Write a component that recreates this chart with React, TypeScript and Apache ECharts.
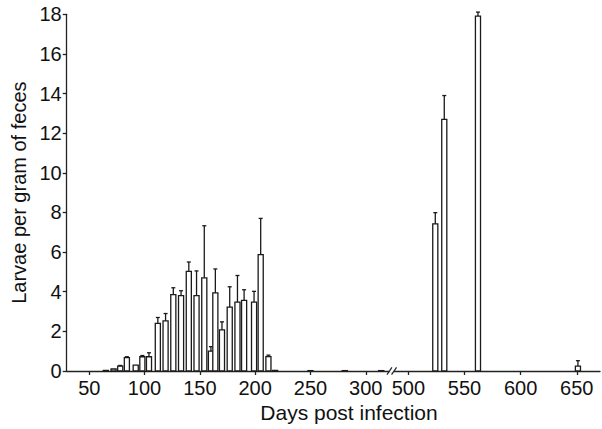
import React, { useEffect, useRef } from "react";
import * as echarts from "echarts";

// Sampling days (days post infection)
const days = [65, 72, 78, 84, 92, 98, 104, 112, 119, 126, 133, 140, 147, 154, 160, 164, 170, 177, 184, 190, 199, 205, 212, 218, 250, 281, 314, 524, 532, 562, 651];
// Mean larvae per gram of feces
const means = [0.03, 0.1, 0.25, 0.67, 0.3, 0.72, 0.72, 2.4, 2.53, 3.85, 3.8, 5.03, 3.8, 4.7, 1.0, 3.94, 2.08, 3.22, 3.48, 3.56, 3.48, 5.87, 0.73, 0.03, 0.02, 0.02, 0.02, 7.42, 12.7, 17.91, 0.25];
// Upper error (SEM)
const errors = [0, 0, 0.03, 0.05, 0, 0.06, 0.2, 0.3, 0.37, 0.35, 0.25, 0.47, 1.25, 2.63, 0.23, 1.21, 0.4, 1.03, 1.34, 0.54, 0.54, 1.83, 0.07, 0, 0, 0, 0, 0.57, 1.2, 0.2, 0.27];

const xTickDays = [50, 100, 150, 200, 250, 300, 500, 550, 600, 650];
const yTicks = [0, 2, 4, 6, 8, 10, 12, 14, 16, 18];

// broken-axis scale: left segment as is, right segment (>=500) shifted
const RIGHT_START = 338.5;
const RIGHT_SCALE = 1.0155;
const toAxis = (d: number) => (d < 400 ? d : RIGHT_START + (d - 500) * RIGHT_SCALE);
const X_MIN = 29.6;
const X_MAX = 511.8;
const BREAK_T = 323.5;

const FONT = "'Liberation Sans', Arial, Helvetica, sans-serif";

export default function App() {
  const ref = useRef<HTMLDivElement>(null);
  useEffect(() => {
    if (!ref.current) return;
    const chart = echarts.init(ref.current, null, { renderer: "svg" });
    const data = days.map((d, i) => [toAxis(d), means[i], errors[i]]);
    const tickVals = xTickDays.map(toAxis);
    const labelFor = (v: number) => {
      const i = tickVals.findIndex((t) => Math.abs(t - v) < 0.01);
      return i >= 0 ? String(xTickDays[i]) : "";
    };
    chart.setOption({
      animation: false,
      grid: { left: 66.7, right: 2, top: 14.3, bottom: 58, containLabel: false },
      xAxis: {
        type: "value",
        min: X_MIN,
        max: X_MAX,
        splitLine: { show: false },
        axisLine: { show: true, lineStyle: { color: "#222", width: 1.3 } },
        axisTick: { show: true, length: 4, customValues: tickVals, lineStyle: { color: "#222", width: 1.3 } },
        axisLabel: {
          customValues: tickVals,
          formatter: (v: number) => labelFor(v),
          fontSize: 20,
          fontFamily: FONT,
          color: "#111",
          margin: 7,
        },
      },
      yAxis: {
        type: "value",
        min: 0,
        max: 18,
        interval: 2,
        splitLine: { show: false },
        axisLine: { show: true, lineStyle: { color: "#222", width: 1.3 } },
        axisTick: { show: true, length: 4, lineStyle: { color: "#222", width: 1.3 } },
        axisLabel: {
          formatter: (v: number) => (yTicks.includes(v) ? String(v) : ""),
          fontSize: 20,
          fontFamily: FONT,
          color: "#111",
          margin: 5,
        },
        name: "Larvae per gram of feces",
        nameLocation: "middle",
        nameGap: 37,
        nameTextStyle: { fontSize: 20, fontFamily: FONT, color: "#111" },
      },
      series: [
        {
          type: "custom",
          data,
          renderItem: (params: any, api: any) => {
            const t = api.value(0);
            const m = api.value(1);
            const e = api.value(2);
            const base = api.coord([t, 0]);
            const top = api.coord([t, m]);
            const et = api.coord([t, m + e]);
            const w = api.size([4.6, 0])[0];
            const children: any[] = [
              {
                type: "rect",
                shape: { x: base[0] - w / 2, y: top[1], width: w, height: Math.max(base[1] - top[1], 0.5) },
                style: { fill: "#fff", stroke: "#1a1a1a", lineWidth: 1.3 },
              },
            ];
            if (e > 0) {
              children.push({
                type: "line",
                shape: { x1: top[0], y1: top[1], x2: et[0], y2: et[1] },
                style: { stroke: "#1a1a1a", lineWidth: 1.3 },
              });
              children.push({
                type: "line",
                shape: { x1: et[0] - 2, y1: et[1], x2: et[0] + 2, y2: et[1] },
                style: { stroke: "#1a1a1a", lineWidth: 1.3 },
              });
            }
            return { type: "group", children };
          },
        },
      ],
    });
    const bx = chart.convertToPixel({ xAxisIndex: 0 }, BREAK_T) as number;
    const by = chart.convertToPixel({ yAxisIndex: 0 }, 0) as number;
    chart.setOption({
      graphic: [
        {
          type: "rect",
          shape: { x: bx - 2.3, y: by - 1.5, width: 4.6, height: 3 },
          style: { fill: "#fff" },
          z: 100,
        },
        {
          type: "line",
          shape: { x1: bx - 4.8, y1: by + 3.7, x2: bx + 0.2, y2: by - 3.7 },
          style: { stroke: "#222", lineWidth: 1.2 },
          z: 101,
        },
        {
          type: "line",
          shape: { x1: bx - 0.2, y1: by + 3.7, x2: bx + 4.8, y2: by - 3.7 },
          style: { stroke: "#222", lineWidth: 1.2 },
          z: 101,
        },
        {
          type: "text",
          x: 349,
          y: 412,
          style: {
            text: "Days post infection",
            font: `21px ${FONT}`,
            fill: "#111",
            textAlign: "center",
            textVerticalAlign: "middle",
          },
          z: 100,
        },
      ],
    });
    return () => chart.dispose();
  }, []);
  return (
    <div
      ref={ref}
      style={{ position: "fixed", left: 0, top: 0, width: 602, height: 429, background: "#fff" }}
    />
  );
}
